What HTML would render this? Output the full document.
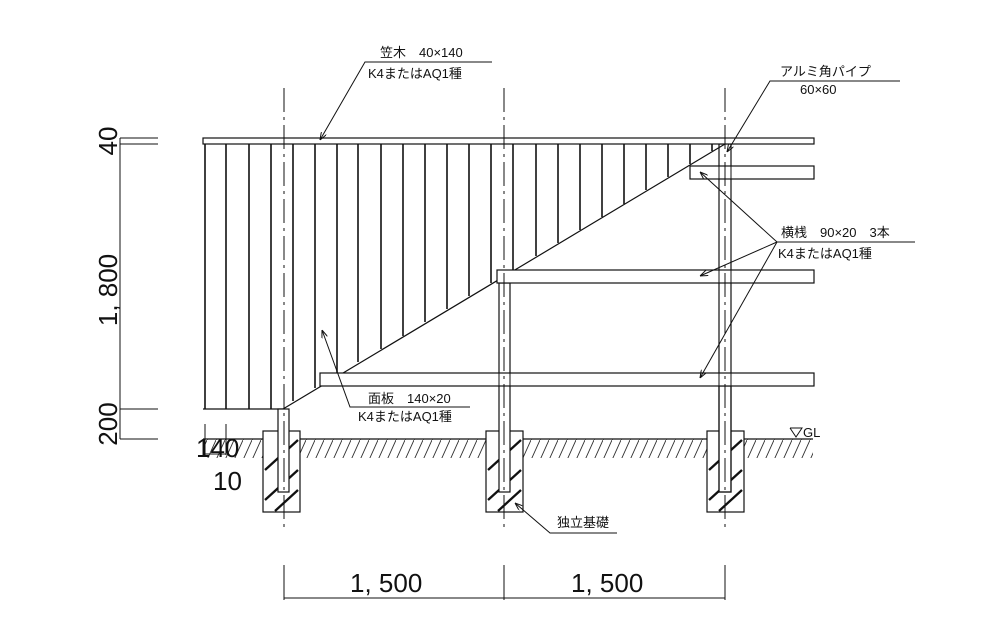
<!DOCTYPE html>
<html><head><meta charset="utf-8"><style>
html,body{margin:0;padding:0;background:#fff}
svg{display:block}
text{font-family:"Liberation Sans","Noto Sans CJK JP",sans-serif;fill:#111}
.s{font-size:13px}
.d{font-size:26px}
</style></head><body>
<svg width="982" height="617" viewBox="0 0 982 617" xmlns="http://www.w3.org/2000/svg">
<defs>
<pattern id="h" width="9" height="20" patternUnits="userSpaceOnUse">
<line x1="0" y1="20" x2="9" y2="0" stroke="#333" stroke-width="0.9"/>
</pattern>
<marker id="a" markerWidth="8" markerHeight="6" refX="8" refY="3" orient="auto" markerUnits="userSpaceOnUse">
<path d="M0,0 L8,3 L0,6" fill="none" stroke="#111" stroke-width="1"/>
</marker>
</defs>
<g stroke="#111" fill="none" stroke-width="1.2">
<rect x="203" y="439" width="610" height="19" fill="url(#h)" stroke="none"/>
<line x1="203" y1="439" x2="813" y2="439"/>
<rect x="263" y="431" width="37" height="81" fill="#fff"/>
<rect x="486" y="431" width="37" height="81" fill="#fff"/>
<rect x="707" y="431" width="37" height="81" fill="#fff"/>
<g stroke-width="2.3">
<line x1="265" y1="470" x2="298" y2="440"/><line x1="265" y1="500" x2="298" y2="470"/><line x1="275" y1="511" x2="298" y2="490"/>
<line x1="488" y1="470" x2="521" y2="440"/><line x1="488" y1="500" x2="521" y2="470"/><line x1="498" y1="511" x2="521" y2="490"/>
<line x1="709" y1="470" x2="742" y2="440"/><line x1="709" y1="500" x2="742" y2="470"/><line x1="719" y1="511" x2="742" y2="490"/>
</g>
<g stroke-width="1.6">
<line x1="205" y1="144" x2="205" y2="409"/>
<line x1="226" y1="144" x2="226" y2="409"/>
<line x1="249" y1="144" x2="249" y2="409"/>
<line x1="271" y1="144" x2="271" y2="409"/>
<line x1="293" y1="144" x2="293" y2="401"/>
<line x1="315" y1="144" x2="315" y2="388"/>
<line x1="337" y1="144" x2="337" y2="375"/>
<line x1="358" y1="144" x2="358" y2="362"/>
<line x1="381" y1="144" x2="381" y2="349"/>
<line x1="403" y1="144" x2="403" y2="336"/>
<line x1="425" y1="144" x2="425" y2="322"/>
<line x1="447" y1="144" x2="447" y2="309"/>
<line x1="469" y1="144" x2="469" y2="296"/>
<line x1="491" y1="144" x2="491" y2="283"/>
<line x1="513" y1="144" x2="513" y2="270"/>
<line x1="536" y1="144" x2="536" y2="256"/>
<line x1="558" y1="144" x2="558" y2="243"/>
<line x1="580" y1="144" x2="580" y2="230"/>
<line x1="602" y1="144" x2="602" y2="217"/>
<line x1="624" y1="144" x2="624" y2="204"/>
<line x1="646" y1="144" x2="646" y2="190"/>
<line x1="668" y1="144" x2="668" y2="177"/>
<line x1="690" y1="144" x2="690" y2="164"/>
<line x1="712" y1="144" x2="712" y2="151"/>
</g>
<line x1="203" y1="409" x2="283" y2="409"/>
<line x1="283" y1="409" x2="725" y2="144"/>
<rect x="278" y="409" width="11" height="83" fill="#fff"/>
<rect x="499" y="283" width="11" height="209" fill="#fff"/>
<rect x="719" y="386" width="12" height="106" fill="#fff"/>
<rect x="719" y="144" width="12" height="348" fill="none"/>
<rect x="690" y="166" width="124" height="13" fill="#fff"/>
<rect x="497" y="270" width="317" height="13" fill="#fff"/>
<rect x="320" y="373" width="494" height="13" fill="#fff"/>
<line x1="719" y1="166" x2="719" y2="386" stroke-width="1"/>
<line x1="731" y1="166" x2="731" y2="386" stroke-width="1"/>
<line x1="499" y1="373" x2="499" y2="386" stroke-width="1"/>
<line x1="510" y1="373" x2="510" y2="386" stroke-width="1"/>
<rect x="203" y="138" width="611" height="6" fill="#fff"/>
<g stroke-dasharray="24,5,3,5" stroke-width="1">
<line x1="284" y1="88" x2="284" y2="530"/>
<line x1="504" y1="88" x2="504" y2="530"/>
<line x1="725" y1="88" x2="725" y2="530"/>
</g>
<g stroke-width="1">
<line x1="120" y1="138" x2="120" y2="439"/>
<line x1="120" y1="138" x2="158" y2="138"/>
<line x1="120" y1="144" x2="158" y2="144"/>
<line x1="120" y1="409" x2="158" y2="409"/>
<line x1="120" y1="439" x2="158" y2="439"/>
<line x1="205" y1="424" x2="205" y2="455"/><line x1="226" y1="424" x2="226" y2="455"/><line x1="205" y1="454" x2="226" y2="454"/>
<line x1="284" y1="598" x2="725" y2="598"/>
<line x1="284" y1="565" x2="284" y2="600"/>
<line x1="504" y1="565" x2="504" y2="600"/>
<line x1="725" y1="565" x2="725" y2="600"/>
<polyline points="492,62 365,62 320,140" marker-end="url(#a)"/>
<polyline points="900,81 770,81 727,152" marker-end="url(#a)"/>
<polyline points="915,242 777,242 700,172" marker-end="url(#a)"/>
<line x1="777" y1="242" x2="700" y2="276" marker-end="url(#a)"/>
<line x1="777" y1="242" x2="700" y2="378" marker-end="url(#a)"/>
<polyline points="470,407 350,407 322,330" marker-end="url(#a)"/>
<polyline points="617,533 550,533 515,503" marker-end="url(#a)"/>
<polyline points="790,428 796,437 802,428 790,428"/>
</g>
</g>
<text class="s" x="380" y="57">笠木　40×140</text>
<text class="s" x="368" y="78">K4またはAQ1種</text>
<text class="s" x="780" y="76">アルミ角パイプ</text>
<text class="s" x="800" y="94">60×60</text>
<text class="s" x="781" y="237">横桟　90×20　3本</text>
<text class="s" x="778" y="258">K4またはAQ1種</text>
<text class="s" x="368" y="403">面板　140×20</text>
<text class="s" x="358" y="421">K4またはAQ1種</text>
<text class="s" x="557" y="527">独立基礎</text>
<text class="s" x="803" y="437">GL</text>
<text class="d" x="196" y="457" font-size="24">140</text>
<text class="d" x="213" y="490" font-size="24">10</text>
<text class="d" x="350" y="592">1, 500</text>
<text class="d" x="571" y="592">1, 500</text>
<text class="d" transform="translate(117,141) rotate(-90)" text-anchor="middle">40</text>
<text class="d" transform="translate(117,290) rotate(-90)" text-anchor="middle">1, 800</text>
<text class="d" transform="translate(117,424) rotate(-90)" text-anchor="middle">200</text>
</svg>
</body></html>
